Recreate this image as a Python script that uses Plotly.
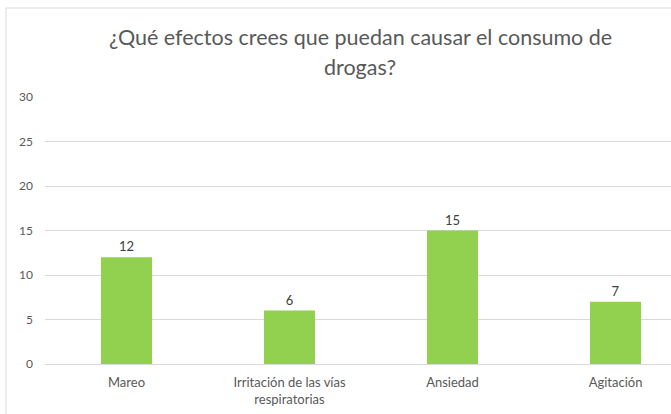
import plotly.graph_objects as go

categories = ["Mareo", "Irritación de las vías<br>respiratorias", "Ansiedad", "Agitación"]
values = [12, 6, 15, 7]
y_ticks = [0, 5, 10, 15, 20, 25, 30]
title_lines = ["¿Qué efectos crees que puedan causar el consumo de", "drogas?"]

W, H = 671, 414
L, R, T, B = 45, 0, 97, 50
ph = H - T - B
pw = W - L - R

def px_to_paper_x(px):
    return (px - L) / pw

def px_to_paper_y(py):
    return (H - B - py) / ph

fig = go.Figure()
fig.add_trace(go.Bar(
    x=list(range(len(categories))),
    y=values,
    width=0.313,
    marker=dict(color="#92D050", line=dict(width=0)),
    text=[str(v) for v in values],
    textposition="outside",
    textfont=dict(family="Lato, Open Sans, sans-serif", size=13, color="#404040"),
    cliponaxis=False,
))

annotations = []
for i, (line, py) in enumerate(zip(title_lines, [37, 67])):
    annotations.append(dict(
        text=line, x=px_to_paper_x(360), y=px_to_paper_y(py),
        xref="paper", yref="paper", xanchor="center", yanchor="middle",
        showarrow=False,
        font=dict(family="Lato, Open Sans, sans-serif", size=21.5, color="#595959"),
    ))

shapes = [
    dict(type="line", xref="paper", yref="paper",
         x0=px_to_paper_x(6), x1=px_to_paper_x(W + 5), y0=px_to_paper_y(8), y1=px_to_paper_y(8),
         line=dict(color="#D9D9D9", width=1)),
    dict(type="line", xref="paper", yref="paper",
         x0=px_to_paper_x(6), x1=px_to_paper_x(6), y0=px_to_paper_y(8), y1=px_to_paper_y(H + 5),
         line=dict(color="#D9D9D9", width=1)),
]

fig.update_layout(
    width=W, height=H,
    margin=dict(l=L, r=R, t=T, b=B, pad=0),
    paper_bgcolor="white", plot_bgcolor="white",
    showlegend=False,
    annotations=annotations,
    shapes=shapes,
    xaxis=dict(
        range=[-0.5, -0.5 + pw / 163.0],
        tickmode="array", tickvals=list(range(len(categories))), ticktext=categories,
        showgrid=False, zeroline=False, showline=False, ticks="",
        ticklabelstandoff=9,
        tickfont=dict(family="Lato, Open Sans, sans-serif", size=13, color="#595959"),
    ),
    yaxis=dict(
        range=[0, 30], tickmode="array", tickvals=y_ticks,
        showgrid=True, gridcolor="#D9D9D9", gridwidth=1,
        zeroline=True, zerolinecolor="#D9D9D9", zerolinewidth=1,
        showline=False, ticks="", ticklabelstandoff=11,
        tickfont=dict(family="Lato, Open Sans, sans-serif", size=12, color="#595959"),
    ),
)

fig.write_html("out.html")
